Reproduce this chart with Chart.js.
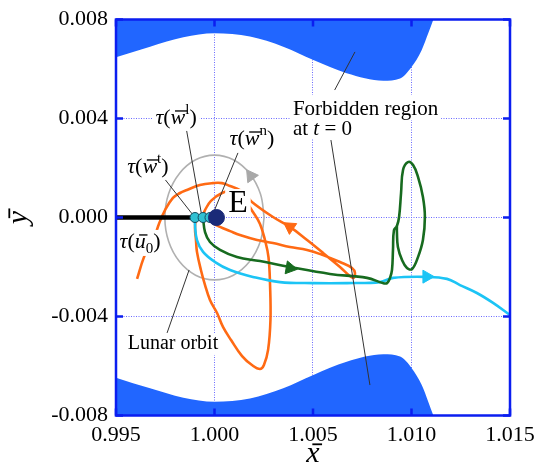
<!DOCTYPE html>
<html>
<head>
<meta charset="utf-8">
<script src="https://cdn.jsdelivr.net/npm/chart.js@4.4.0/dist/chart.umd.min.js"></script>
<style>
  html, body { margin: 0; padding: 0; background: #fff; }
  #wrap { width: 544px; height: 470px; position: relative; }
</style>
</head>
<body>
<div id="wrap"><canvas id="myChart"></canvas></div>
<script>
"use strict";

// ticks
const xTicks = [0.995, 1.000, 1.005, 1.010, 1.015];
const yTicks = [-0.008, -0.004, 0.000, 0.004, 0.008];

// forbidden region boundary at t = 0 (top and bottom)
const forbX    = [0.995, 0.99673, 0.99842, 1.0, 1.0018, 1.00349, 1.00502, 1.00671, 1.00857, 1.00942, 1.01001, 1.01052, 1.01085, 1.01111];
const forbTopY = [0.00647, 0.0069, 0.00728, 0.00744, 0.00731, 0.0069, 0.00636, 0.00583, 0.00553, 0.00562, 0.00609, 0.00677, 0.00744, 0.008];
const forbBotY = [-0.00647, -0.0069, -0.00728, -0.00744, -0.00731, -0.0069, -0.00636, -0.00583, -0.00553, -0.00562, -0.00609, -0.00677, -0.00744, -0.008];

// lunar orbit
const moonX = [1.00252, 1.00233, 1.00178, 1.00096, 1.0, 0.99904, 0.99822, 0.99767, 0.99748, 0.99767, 0.99822, 0.99904, 1.0, 1.00096, 1.00178, 1.00233, 1.00252];
const moonY = [0, 0.00096, 0.00178, 0.00233, 0.00252, 0.00233, 0.00178, 0.00096, 0, -0.00096, -0.00178, -0.00233, -0.00252, -0.00233, -0.00178, -0.00096, 0];

// orange trajectories
const orangeAX = [0.99607, 0.99642, 0.99673, 0.99698, 0.99718, 0.99749, 0.99789, 0.99825, 0.9986, 0.99926, 0.99992, 1.00038, 1.00079, 1.00129, 1.00165, 1.0019, 1.00297, 1.00383, 1.0047, 1.00551, 1.00637, 1.00703, 1.00713, 1.00698, 1.00637, 1.00551, 1.0047, 1.00383, 1.00297, 1.00216, 1.00129, 1.00079, 1.00028, 0.99992, 0.99972];
const orangeAY = [-0.00248, -0.0016, -0.00111, -0.00071, -0.00026, 0.0003, 0.00079, 0.00099, 0.00111, 0.00131, 0.00139, 0.00139, 0.00127, 0.00111, 0.00087, 0.00063, 0.00002, -0.00038, -0.00091, -0.00143, -0.002, -0.00244, -0.00224, -0.00204, -0.0018, -0.00152, -0.00131, -0.00119, -0.00103, -0.00091, -0.00071, -0.00055, -0.00038, -0.00022, 0];
const orangeBX = [0.99906, 0.99901, 0.99906, 0.99911, 0.99931, 0.99952, 0.99977, 1.00013, 1.00043, 1.00084, 1.0014, 1.0019, 1.00231, 1.00251, 1.00272, 1.00284, 1.00282, 1.00274, 1.00256, 1.00231, 1.00195, 1.00145, 1.00089, 1.00038, 0.99982, 0.99952, 0.99937];
const orangeBY = [-0.00002, -0.00042, -0.00091, -0.00139, -0.00212, -0.00273, -0.00333, -0.00386, -0.00442, -0.00495, -0.0056, -0.00596, -0.00612, -0.00596, -0.00535, -0.00414, -0.00273, -0.0016, -0.00091, -0.00026, 0.00022, 0.00079, 0.00107, 0.00099, 0.00067, 0.0003, 0.00002];

// green trajectory
const greenX = [0.99942, 0.99952, 0.99977, 1.00028, 1.00114, 1.00231, 1.00383, 1.00586, 1.00774, 1.00855, 1.00876, 1.00891, 1.00901, 1.00906, 1.00911, 1.00926, 1.00937, 1.00947, 1.00957, 1.00982, 1.01008, 1.01033, 1.01058, 1.01068, 1.01058, 1.01033, 1.01003, 1.00977, 1.00952, 1.00931, 1.00926, 1.00926];
const greenY = [-0.00002, -0.00059, -0.00099, -0.00131, -0.0016, -0.00176, -0.002, -0.00228, -0.00244, -0.00265, -0.00265, -0.00244, -0.00212, -0.00131, -0.00051, -0.00034, 0.00002, 0.00099, 0.00192, 0.00224, 0.00212, 0.00164, 0.00083, 0.00002, -0.00091, -0.0016, -0.00208, -0.00204, -0.00172, -0.00119, -0.00059, -0.0003];

// cyan trajectory
const cyanX = [0.99901, 0.99901, 0.99911, 0.99942, 1.00003, 1.00079, 1.00195, 1.00332, 1.005, 1.00673, 1.0084, 1.00906, 1.01079, 1.0118, 1.01246, 1.01332, 1.01414, 1.015];
const cyanY = [-0.00002, -0.0003, -0.00091, -0.00139, -0.0018, -0.00212, -0.0024, -0.00261, -0.00265, -0.00265, -0.00261, -0.00244, -0.0024, -0.00248, -0.00273, -0.00305, -0.00345, -0.00394];

// thick black segment tau(u0)
const barX = [0.995, 0.999];
const barY = [0, 0];

// start points tau(w^t), tau(w^l), tau(w^n) and the Earth
const startX = [0.99901, 0.99942, 0.99977];
const startY = [0, 0, 0];
const earthX = [1.0001];
const earthY = [0];

// direction arrows
const arrowX = [1.00185, 1.00383, 1.00383, 1.01077];
const arrowY = [0.00168, -0.00038, -0.00204, -0.00239];
const arrowRot = [-35, -56, 100, 90];
const arrowCol = ['#a8a8a8', '#ff6a14', '#176b1f', '#1cc4f5'];

// leader lines [x0, y0, x1, y1]
const leaders = [
  [1.00713, 0.00669, 1.0061, 0.00515],
  [1.00591, 0.00313, 1.00789, -0.00677],
  [0.99856, 0.00362, 0.99937, 0.0],
  [0.99723, 0.0018, 0.99901, 0.0],
  [1.00119, 0.00261, 0.99992, 0.00014],
  [0.99759, -0.00467, 0.99871, -0.00212]
];

const SERIF = "'Liberation Serif', 'DejaVu Serif', serif";
function fnt(size, it) { return (it ? "italic " : "") + size + "px " + SERIF; }
function P(t, size, it, dy, bar) { return { t: t, size: size, it: !!it, dy: dy || 0, bar: !!bar }; }
function tau(base, script, sub) {
  return [P("τ", 22, true), P("(", 22), P(base, 22, true, 0, true), P(script, 15, false, sub ? 5 : -10), P(")", 22)];
}

// labels: position (data), alignment, white box ascent/descent
const labels = [
  { x: 0.99805, y: 0.00378, align: "center", asc: 19, desc: 7, pieces: tau("w", "l", false) },
  { x: 0.99662, y: 0.0018, align: "center", asc: 19, desc: 7, pieces: tau("w", "t", false) },
  { x: 1.0019, y: 0.00293, align: "center", asc: 19, desc: 7, pieces: tau("w", "n", false) },
  { x: 0.99622, y: -0.00123, align: "center", asc: 18, desc: 8, pieces: tau("u", "0", true) },
  { x: 1.00119, y: 0.00022, align: "center", asc: 23, desc: 1, pieces: [P("E", 32)] },
  { x: 1.00398, y: 0.00414, align: "left", asc: 20, desc: 5, pieces: [P("Forbidden region", 21)] },
  { x: 1.00398, y: 0.00333, align: "left", asc: 15, desc: 4, pieces: [P("at ", 21), P("t", 21, true), P(" = 0", 21)] },
  { x: 0.99789, y: -0.00531, align: "center", asc: 16, desc: 6, pieces: [P("Lunar orbit", 20)] }
];

function pts(xs, ys) { return xs.map(function (x, i) { return { x: x, y: ys[i] }; }); }

function runWidth(ctx, pieces) {
  let w = 0;
  for (const p of pieces) { ctx.font = fnt(p.size, p.it); w += ctx.measureText(p.t).width; }
  return w;
}
function drawRun(ctx, x, y, pieces) {
  for (const p of pieces) {
    ctx.font = fnt(p.size, p.it);
    const w = ctx.measureText(p.t).width;
    ctx.fillText(p.t, x, y + p.dy);
    if (p.bar) ctx.fillRect(x + p.size * 0.2, y - p.size * 0.62, w - p.size * 0.12, Math.max(1.2, p.size * 0.06));
    x += w;
  }
}

const decor = {
  id: "decor",
  afterDatasetsDraw(chart) {
    const ctx = chart.ctx, sx = chart.scales.x, sy = chart.scales.y;
    ctx.save();
    ctx.textBaseline = "alphabetic";
    const placed = labels.map(function (l) {
      const w = runWidth(ctx, l.pieces);
      const px = sx.getPixelForValue(l.x), py = sy.getPixelForValue(l.y);
      const x0 = l.align === "center" ? px - w / 2 : px;
      return { l: l, w: w, x0: x0, py: py };
    });
    ctx.fillStyle = "#fff";
    placed.forEach(function (o) { ctx.fillRect(o.x0 - 3, o.py - o.l.asc, o.w + 6, o.l.asc + o.l.desc); });
    ctx.fillStyle = "#000";
    placed.forEach(function (o) { drawRun(ctx, o.x0, o.py, o.l.pieces); });
    ctx.restore();
  },
  afterDraw(chart) {
    const ctx = chart.ctx, a = chart.chartArea, sx = chart.scales.x, sy = chart.scales.y;
    ctx.save();
    ctx.strokeStyle = "#0b1ef0";
    ctx.lineWidth = 2.5;
    ctx.strokeRect(a.left, a.top, a.right - a.left, a.bottom - a.top);
    ctx.beginPath();
    yTicks.forEach(function (v) {
      const p = sy.getPixelForValue(v);
      ctx.moveTo(a.left, p); ctx.lineTo(a.left + 7, p);
      ctx.moveTo(a.right, p); ctx.lineTo(a.right - 7, p);
    });
    xTicks.forEach(function (v) {
      const p = sx.getPixelForValue(v);
      ctx.moveTo(p, a.bottom); ctx.lineTo(p, a.bottom - 7);
      ctx.moveTo(p, a.top); ctx.lineTo(p, a.top + 7);
    });
    ctx.stroke();
    // axis titles
    ctx.fillStyle = "#000";
    ctx.textBaseline = "alphabetic";
    const xt = [P("x", 30, true, 0, true)];
    drawRun(ctx, (a.left + a.right) / 2 - runWidth(ctx, xt) / 2, 462, xt);
    const yt = [P("y", 30, true, 0, true)];
    ctx.translate(27, (a.top + a.bottom) / 2);
    ctx.rotate(-Math.PI / 2);
    drawRun(ctx, -runWidth(ctx, yt) / 2, 0, yt);
    ctx.restore();
  }
};

function curve(xs, ys, color, width, order) {
  return { data: pts(xs, ys), borderColor: color, borderWidth: width, pointRadius: 0, fill: false, tension: 0.4, order: order };
}

const datasets = [
  { data: pts(forbX, forbTopY), fill: "end", backgroundColor: "#2166ff", borderWidth: 0, pointRadius: 0, cubicInterpolationMode: "monotone", order: 20 },
  { data: pts(forbX, forbBotY), fill: "start", backgroundColor: "#2166ff", borderWidth: 0, pointRadius: 0, cubicInterpolationMode: "monotone", order: 20 },
  curve(moonX, moonY, "#b0b0b0", 1.6, 15),
  curve(orangeAX, orangeAY, "#ff6a14", 2.6, 12),
  curve(orangeBX, orangeBY, "#ff6a14", 2.6, 12),
  curve(cyanX, cyanY, "#1cc4f5", 2.6, 11),
  curve(greenX, greenY, "#176b1f", 2.6, 10)
];
leaders.forEach(function (l) {
  datasets.push({ data: [{ x: l[0], y: l[1] }, { x: l[2], y: l[3] }], borderColor: "#333", borderWidth: 1, pointRadius: 0, tension: 0, fill: false, order: 8 });
});
datasets.push({ data: pts(barX, barY), borderColor: "#000", borderWidth: 4.5, pointRadius: 0, tension: 0, fill: false, order: 6 });
datasets.push({ data: pts(arrowX, arrowY), showLine: false, pointStyle: "triangle", pointRadius: 7.5, pointRotation: arrowRot,
  pointBackgroundColor: arrowCol, pointBorderColor: arrowCol, pointBorderWidth: 1, order: 4 });
datasets.push({ data: pts(startX, startY), showLine: false, pointRadius: 5, pointBackgroundColor: "#2fc0d2", pointBorderColor: "#134a5e", pointBorderWidth: 1, order: 3 });
datasets.push({ data: pts(earthX, earthY), showLine: false, pointRadius: 8, pointBackgroundColor: "#1a2a78", pointBorderColor: "#1a2a78", order: 2 });

const tickFont = { family: SERIF, size: 22 };

function draw() {
  new Chart(document.getElementById("myChart"), {
    type: "line",
    data: { datasets: datasets },
    options: {
      responsive: true,
      maintainAspectRatio: false,
      animation: false,
      layout: { padding: { left: 0, right: 34, top: 19.5, bottom: 0 } },
      plugins: { legend: { display: false }, tooltip: { enabled: false } },
      scales: {
        x: {
          type: "linear", min: 0.995, max: 1.015,
          afterBuildTicks: function (s) { s.ticks = xTicks.map(function (v) { return { value: v }; }); },
          afterFit: function (s) { s.height = 54.5; s.paddingLeft = 0; s.paddingRight = 0; },
          ticks: { font: tickFont, color: "#000", padding: 7, maxRotation: 0, autoSkip: false, callback: function (v) { return v.toFixed(3); } },
          grid: { color: "#6a6aff", lineWidth: 1, drawTicks: false },
          border: { display: false, dash: [1, 1.5] }
        },
        y: {
          type: "linear", min: -0.008, max: 0.008,
          afterBuildTicks: function (s) { s.ticks = yTicks.map(function (v) { return { value: v }; }); },
          afterFit: function (s) { s.width = 116; s.paddingTop = 0; s.paddingBottom = 0; },
          ticks: { font: tickFont, color: "#000", padding: 8, autoSkip: false, callback: function (v) { return v.toFixed(3); } },
          grid: { color: "#6a6aff", lineWidth: 1, drawTicks: false },
          border: { display: false, dash: [1, 1.5] }
        }
      }
    },
    plugins: [decor]
  });
}

if (document.fonts && document.fonts.load) {
  Promise.all([
    document.fonts.load("22px 'Liberation Serif'"),
    document.fonts.load("italic 22px 'Liberation Serif'")
  ]).then(draw, draw);
} else {
  draw();
}
</script>
</body>
</html>
